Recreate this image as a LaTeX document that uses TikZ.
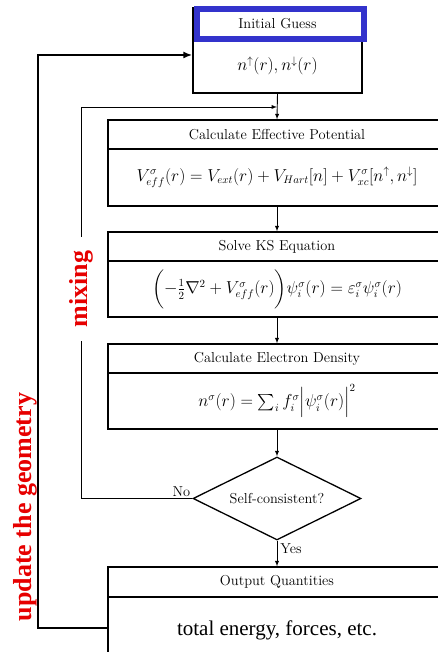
\documentclass[tikz,border=0pt]{standalone}
\usepackage{amsmath, amssymb}
\usepackage{fontspec}
\newfontfamily\timesfont{Liberation Serif}
\usetikzlibrary{arrows.meta, shapes.geometric, positioning, calc}
\definecolor{guessblue}{HTML}{3333CC}
\definecolor{loopred}{HTML}{E60000}
\tikzset{
  >=latex,  % frecce piccole
  % Riquadri del ciclo
  box/.style={draw, rectangle, line width=1.3pt, inner sep=0, font=\Large},
  box title/.style={box, minimum width=338, minimum height=29},
  box body/.style={box, minimum width=338, font=\fontsize{16.3}{19}\selectfont},
  guess/.style={box, minimum width=169},
  test/.style={draw, diamond, aspect=2.02, line width=1.3pt, minimum width=168, minimum height=83, inner sep=0, font=\Large},
  % Connessioni
  connect/.style={->, line width=0.9pt},
  connect geo/.style={-{Latex[length=9,width=7]}, line width=2.4pt},
  loop label/.style={rotate=90, text=loopred, font=\fontsize{26}{30}\selectfont\timesfont\bfseries}
}
\begin{document}
\begin{tikzpicture}[x=1pt, y=1pt]
  \useasboundingbox (0,0) rectangle (437,652);
  % Passi del calcolo
  \node[guess, minimum height=31] (ig-t) at (277.5,628.5) {Initial Guess};
  \node[guess, minimum height=54, font=\fontsize{16.3}{19}\selectfont] (ig-b) at (277.5,586) {$n^{\uparrow}(r), n^{\downarrow}(r)$};
  \draw[guessblue, line width=6pt] (196.5,643) rectangle (363.5,613);
  \node[box title] (ep-t) at (277,517.5) {Calculate Effective Potential};
  \node[box body, minimum height=57] (ep-b) at (277,474.5)
    {$V^{\sigma}_{eff}(r) = V_{ext}(r) + V_{Hart}[n] + V^{\sigma}_{xc}[n^{\uparrow}, n^{\downarrow}]$};
  \node[box title] (ks-t) at (277,405.5) {Solve KS Equation};
  \node[box body, minimum height=56] (ks-b) at (277,363)
    {$\biggl(-\frac{1}{2}\nabla^2 + V^{\sigma}_{eff}(r)\biggr)\psi^{\sigma}_i(r) = \varepsilon^{\sigma}_i\psi^{\sigma}_i(r)$};
  \node[box title] (ed-t) at (277,293.5) {Calculate Electron Density};
  \node[box body, minimum height=56] (ed-b) at (277,251)
    {$n^{\sigma}(r) = \sum_i f^{\sigma}_i \Bigl|\psi^{\sigma}_i(r)\Bigr|^2$};
  \node[test] (sc) at (277,153.5) {Self-consistent?};
  \node[box title, minimum height=30] (op-t) at (277,70) {Output Quantities};
  \node[box body, minimum height=83, font=\fontsize{21}{25}\selectfont\timesfont] (op-b) at (277,14)
    {\raisebox{19pt}{total energy, forces, etc.}};
  % Frecce verticali
  \draw[connect] (ig-b.south) -- (ep-t.north);
  \draw[connect] (ep-b.south) -- (ks-t.north);
  \draw[connect] (ks-b.south) -- (ed-t.north);
  \draw[connect] (ed-b.south) -- (sc.north);
  \draw[connect] (sc.south) -- (op-t.north) node[pos=0.3, right, font=\Large, inner sep=3pt] {Yes};
  % Ciclo di mixing
  \coordinate (mix-bot) at (81,153.5);
  \coordinate (mix-top) at (81,545);
  \draw[connect] (sc.west) -- (mix-bot) -- (mix-top) -- (mix-top -| ep-t.north);
  \node[above left, font=\Large, inner sep=2pt] at (sc.west) {No};
  \node[loop label, fill=white, inner xsep=14pt, inner ysep=0pt] (mix) at (81,363) {mixing};
  % Ciclo della geometria
  \coordinate (geo-bot) at (38,24);
  \coordinate (geo-top) at (38,597);
  \draw[connect geo] (op-b.west |- geo-bot) -- (geo-bot) -- (geo-top) -- (geo-top -| ig-b.west);
  \node[loop label] (geo) at (25,145) {update the geometry};
\end{tikzpicture}
\end{document}
